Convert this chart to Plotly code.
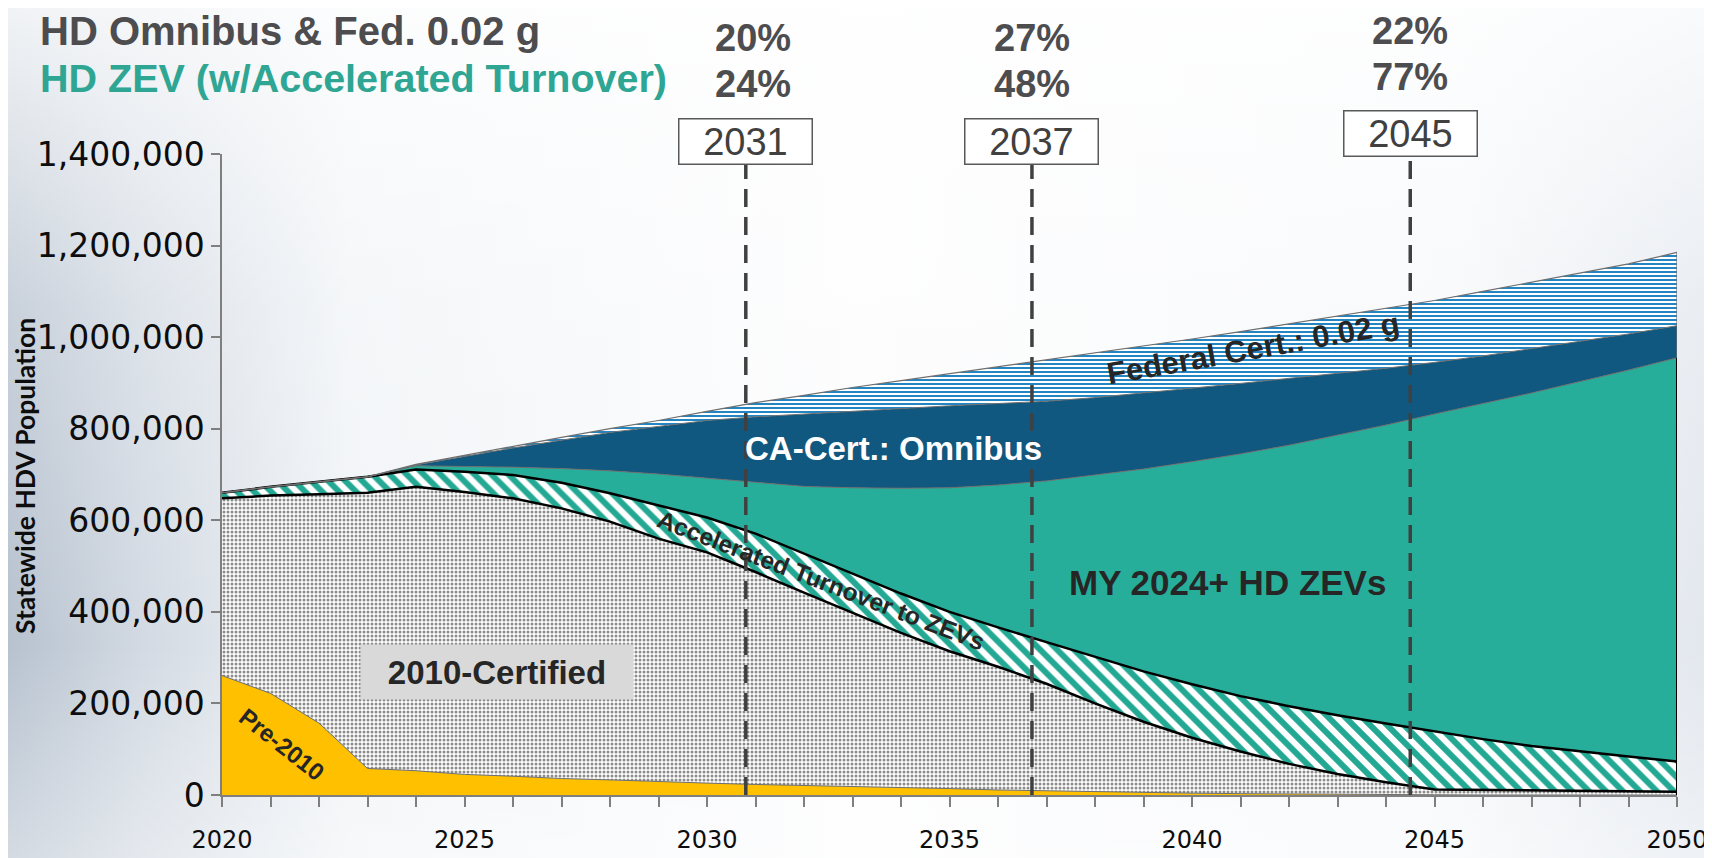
import base64
import plotly.graph_objects as go

# ---- data (vehicles, statewide) ----
years = list(range(2020, 2051))

pre_2010 = [261000, 222000, 157000, 58000, 53000, 45000, 41000, 36000, 33000, 29000,
            26000, 23000, 21000, 18000, 16000, 14000, 11000, 9000, 7000, 5000,
            4000, 3000, 2000, 1500, 1000, 500, 0, 0, 0, 0, 0]

cert_2010 = [387000, 432000, 500000, 602000, 620000, 617000, 607000, 590000, 564000, 531000,
             504000, 464000, 421000, 380000, 338000, 300000, 269000, 234000, 193000, 155000,
             121000, 92000, 66000, 44500, 27000, 11500, 11000, 10000, 9000, 8000, 7000]

accel_turnover = [12000, 19000, 27000, 35000, 38000, 44000, 51000, 56000, 62000, 72000,
                  76000, 84000, 85000, 86000, 86000, 86000, 86000, 91000, 102000, 110000,
                  117000, 121000, 126000, 128000, 128000, 127000, 111000, 97000, 86000, 76000, 66000]

zev_2024 = [0, 0, 0, 0, 8000, 12000, 17000, 31000, 49000, 69000,
            86000, 111000, 147000, 187000, 230000, 271000, 311000, 352000, 397000, 442000,
            486000, 529000, 570000, 612000, 652000, 693000, 733000, 771000, 808000, 844000, 882000]

omnibus = [0, 0, 0, 0, 2000, 22000, 42000, 62000, 84000, 104000,
           126000, 144000, 158000, 168000, 174000, 179000, 178000, 174000, 169000, 166000,
           160000, 154000, 146000, 135000, 124000, 113000, 104000, 97000, 88000, 79000, 70000]

federal = [0, 0, 0, 0, 1000, 2000, 4000, 6000, 8000, 13000,
           20000, 31000, 41000, 51000, 61000, 70000, 80000, 90000, 97000, 102000,
           108000, 113000, 119000, 125000, 130000, 135000, 141000, 145000, 149000, 153000, 160000]

milestone_labels = ["2031", "2037", "2045"]
milestone_x = [2030.8, 2036.7, 2044.5]
share_omnibus_fed = ["20%", "27%", "22%"]
share_zev = ["24%", "48%", "77%"]

# ---- page geometry (the page body adds an 8px offset) ----
OFF = 8
W, H = 1712 - OFF, 858 - OFF
L, R, T, B = 222 - OFF, 35, 154 - OFF, 63
PW, PH = W - L - R, H - T - B


def px_x(x):
    # screen pixel -> paper x
    return (x - OFF - L) / PW


def px_y(y):
    # screen pixel -> paper y
    return (H - B - (y - OFF)) / PH


SANS = "Liberation Sans, Arial, sans-serif"
GREY_TXT = "#4D4D4F"
DARK = "#262626"
EDGE = "#6E6E6E"

fig = go.Figure()

fig.add_trace(go.Scatter(
    x=years, y=pre_2010, name="Pre-2010", stackgroup="fleet", mode="lines",
    line=dict(color=EDGE, width=1), fillcolor="#FFC000"))

fig.add_trace(go.Scatter(
    x=years, y=cert_2010, name="2010-Certified", stackgroup="fleet", mode="lines",
    line=dict(color="black", width=2.5), fillcolor="#8C8C8C",
    fillpattern=dict(shape=".", fgcolor="#8C8C8C", bgcolor="#FFFFFF", size=4,
                     solidity=0.45, fgopacity=1)))

fig.add_trace(go.Scatter(
    x=years, y=accel_turnover, name="Accelerated Turnover to ZEVs", stackgroup="fleet",
    mode="lines", line=dict(color="black", width=2.5), fillcolor="#22A893",
    fillpattern=dict(shape="\\", fgcolor="#22A893", bgcolor="#FFFFFF", size=12,
                     solidity=0.5, fgopacity=1)))

fig.add_trace(go.Scatter(
    x=years, y=zev_2024, name="MY 2024+ HD ZEVs", stackgroup="fleet", mode="lines",
    line=dict(color=EDGE, width=1), fillcolor="#27AE9A"))

fig.add_trace(go.Scatter(
    x=years, y=omnibus, name="CA-Cert.: Omnibus", stackgroup="fleet", mode="lines",
    line=dict(color=EDGE, width=1), fillcolor="#10587F"))

fig.add_trace(go.Scatter(
    x=years, y=federal, name="Federal Cert.: 0.02 g", stackgroup="fleet", mode="lines",
    line=dict(color=EDGE, width=1.2), fillcolor="#2386C2",
    fillpattern=dict(shape="-", fgcolor="#2386C2", bgcolor="#FFFFFF", size=4,
                     solidity=0.5, fgopacity=1)))

# right-hand closing edge of the stack
zev_top = pre_2010[-1] + cert_2010[-1] + accel_turnover[-1] + zev_2024[-1]
total_top = zev_top + omnibus[-1] + federal[-1]
fig.add_shape(type="line", x0=years[-1], x1=years[-1], y0=0, y1=zev_top,
              line=dict(color="black", width=2))
fig.add_shape(type="line", x0=years[-1], x1=years[-1], y0=zev_top, y1=total_top,
              line=dict(color=EDGE, width=1.2))

# ---- milestone markers ----
box_mid = [141.5, 141.5, 133]
box_bottom = [165, 165, 157]
pct_rows = [(38, 84), (38, 84), (30.5, 77.5)]
pct_shift = [7, 0, 0]
for i, lab in enumerate(milestone_labels):
    fig.add_shape(type="line", xref="x", yref="paper",
                  x0=milestone_x[i], x1=milestone_x[i], y0=0, y1=px_y(box_bottom[i]),
                  line=dict(color="#404040", width=3.5, dash="18px,10px"))
    fig.add_annotation(xref="x", yref="paper", x=milestone_x[i], y=px_y(box_mid[i]),
                       xanchor="center", yanchor="middle",
                       text=lab, showarrow=False, width=132, height=44, borderpad=0,
                       bgcolor="white", bordercolor="#595959", borderwidth=1.5,
                       font=dict(family=SANS, size=38, color="#404040"))
    fig.add_annotation(xref="x", yref="paper", x=milestone_x[i], y=px_y(pct_rows[i][0]),
                       xanchor="center", yanchor="middle",
                       xshift=pct_shift[i], text=share_omnibus_fed[i], showarrow=False,
                       font=dict(family=SANS, size=38, color=GREY_TXT, weight="bold"))
    fig.add_annotation(xref="x", yref="paper", x=milestone_x[i], y=px_y(pct_rows[i][1]),
                       xanchor="center", yanchor="middle",
                       xshift=pct_shift[i], text=share_zev[i], showarrow=False,
                       font=dict(family=SANS, size=38, color=GREY_TXT, weight="bold"))

# ---- headline ----
fig.add_annotation(xref="paper", yref="paper", x=px_x(38), y=px_y(30.5),
                   xanchor="left", yanchor="middle",
                   text="HD Omnibus & Fed. 0.02 g", showarrow=False,
                   font=dict(family=SANS, size=40, color=GREY_TXT, weight="bold"))
fig.add_annotation(xref="paper", yref="paper", x=px_x(38), y=px_y(78.5),
                   xanchor="left", yanchor="middle",
                   text="HD ZEV (w/Accelerated Turnover)", showarrow=False,
                   font=dict(family=SANS, size=39.5, color="#2EA693", weight="bold"))

# ---- area labels ----
fig.add_annotation(x=2021.24, y=111000, text="Pre-2010", textangle=38, showarrow=False,
                   xanchor="center", yanchor="middle",
                   font=dict(family=SANS, size=24, color=DARK, weight="bold"))
fig.add_annotation(x=2025.67, y=269000, text="2010-Certified", showarrow=False,
                   xanchor="center", yanchor="middle",
                   width=272, height=54, bgcolor="#D9D9D9", borderpad=0,
                   font=dict(family=SANS, size=33, color=DARK, weight="bold"))
fig.add_annotation(x=2032.35, y=468000, text="Accelerated Turnover to ZEVs", textangle=21,
                   xanchor="center", yanchor="middle",
                   showarrow=False, font=dict(family=SANS, size=24.5, color=DARK, weight="bold"))
fig.add_annotation(x=2033.84, y=756000, text="CA-Cert.: Omnibus", showarrow=False,
                   xanchor="center", yanchor="middle",
                   font=dict(family=SANS, size=33, color="white", weight="bold"))
fig.add_annotation(x=2040.74, y=465000, text="MY 2024+ HD ZEVs", showarrow=False,
                   xanchor="center", yanchor="middle",
                   font=dict(family=SANS, size=35, color=DARK, weight="bold"))
fig.add_annotation(x=2041.26, y=975000, text="Federal Cert.: 0.02 g", textangle=-10,
                   xanchor="center", yanchor="middle",
                   showarrow=False, font=dict(family=SANS, size=31, color=DARK, weight="bold"))

# y axis title
fig.add_annotation(xref="paper", yref="paper", x=px_x(25), y=px_y(476), textangle=-90,
                   xanchor="center", yanchor="middle",
                   text="Statewide HDV Population", showarrow=False,
                   font=dict(family="Lato, Open Sans, sans-serif", size=26.5, color="#0D0D0D",
                             weight="bold"))

# ---- slide-like background ----
bg_svg = """<svg xmlns='http://www.w3.org/2000/svg' width='1704' height='850' preserveAspectRatio='none'>
<defs>
<linearGradient id='h' x1='0' y1='0' x2='1' y2='0'>
<stop offset='0' stop-color='#B7C2CF'/>
<stop offset='0.08' stop-color='#D3DAE3'/>
<stop offset='0.2' stop-color='#F1F4F7'/>
<stop offset='0.5' stop-color='#FDFDFE'/>
<stop offset='0.85' stop-color='#F6F8FA'/>
<stop offset='1' stop-color='#E2E7EE'/>
</linearGradient>
<linearGradient id='v' x1='0' y1='0' x2='0' y2='1'>
<stop offset='0' stop-color='#FFFFFF' stop-opacity='0.8'/>
<stop offset='0.35' stop-color='#FFFFFF' stop-opacity='0.25'/>
<stop offset='0.75' stop-color='#FFFFFF' stop-opacity='0'/>
<stop offset='1' stop-color='#FFFFFF' stop-opacity='0.4'/>
</linearGradient>
</defs>
<rect width='1704' height='850' fill='url(#h)'/>
<rect width='1704' height='850' fill='url(#v)'/>
</svg>"""
bg_src = "data:image/svg+xml;base64," + base64.b64encode(bg_svg.encode()).decode()

fig.add_layout_image(dict(source=bg_src, xref="paper", yref="paper",
                          x=-L / PW, y=1 + T / PH, sizex=W / PW, sizey=H / PH,
                          xanchor="left", yanchor="top", sizing="stretch", layer="below"))

fig.update_layout(
    width=W, height=H, autosize=False,
    margin=dict(l=L, r=R, t=T, b=B),
    paper_bgcolor="#F4F6F9", plot_bgcolor="rgba(0,0,0,0)",
    showlegend=False,
    xaxis=dict(range=[2020, 2050], tick0=2020, dtick=5, ticks="outside", ticklen=10,
               tickwidth=1.5, tickcolor="#7F7F7F", showline=True, linecolor="#7F7F7F",
               linewidth=1.5, showgrid=False, zeroline=False, ticklabelstandoff=12,
               automargin=False,
               minor=dict(dtick=1, ticks="outside", ticklen=10, tickwidth=1.5,
                          tickcolor="#7F7F7F"),
               tickfont=dict(family="DejaVu Sans", size=24, color="#0D0D0D")),
    yaxis=dict(range=[0, 1400000], dtick=200000, tickformat=",", ticks="outside",
               ticklen=9, tickwidth=1.5, tickcolor="#7F7F7F", showline=True,
               linecolor="#7F7F7F", linewidth=1.5, showgrid=False, zeroline=False,
               automargin=False,
               tickfont=dict(family="DejaVu Sans", size=33, color="#0D0D0D")),
)

fig.write_html("out.html")
